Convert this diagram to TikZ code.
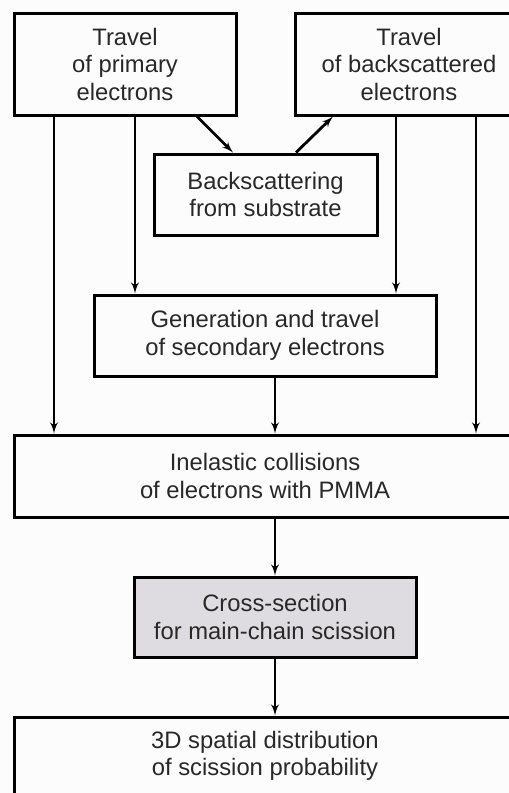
\documentclass[tikz,border=0pt]{standalone}
\usepackage{fontspec}
\setmainfont{Liberation Sans}
\usepackage{tikz}
\usetikzlibrary{arrows}

\definecolor{boxgray}{RGB}{222,220,224}
\definecolor{paper}{RGB}{252,252,252}
\definecolor{ink}{RGB}{40,40,40}

\begin{document}
\begin{tikzpicture}[x=1pt,y=-1pt,>=latex',line width=2.8pt]

		\tikzset{box/.style={draw,line width=3pt,inner sep=0pt,align=center,text=ink,
				font=\fontsize{23.8}{27.5}\selectfont}}

		\clip (0,0) rectangle (509,793);
		\fill[paper] (0,0) rectangle (509,793);

		\node[box,minimum width=222pt,minimum height=102pt] (prim) at (125,64) {Travel\\of primary\\electrons};
		\node[box,minimum width=228pt,minimum height=102pt] (bsc) at (409,64) {Travel\\of backscattered\\electrons};
		\node[box,minimum width=223pt,minimum height=81pt] (subs) at (265.5,194.5) {Backscattering\\from substrate};
		\node[box,minimum width=342pt,minimum height=81pt] (sec) at (265,335.5) {Generation and travel\\of secondary electrons};
		\node[box,minimum width=502pt,minimum height=82pt] (inel) at (265,476) {Inelastic collisions\\of electrons with PMMA};
		\node[box,fill=boxgray,minimum width=282pt,minimum height=80pt] (cross) at (275,617) {Cross-section\\for main-chain scission};
		\node[box,minimum width=502pt,minimum height=78pt] (dist) at (265,756) {3D spatial distribution\\of scission probability};

		\coordinate (c_1) at (54,0);
		\coordinate (c_2) at (135,0);
		\coordinate (c_3) at (275,0);
		\coordinate (c_4) at (396,0);
		\coordinate (c_5) at (476,0);

		\path[->] ([xshift=72pt]prim.south) edge ([xshift=-32.5pt]subs.north)
					([xshift=30.5pt]subs.north) edge ([xshift=-76pt]bsc.south)
					(prim.south -| c_1) edge (inel.north -| c_1)
					(prim.south -| c_2) edge (sec.north -| c_2)
					(bsc.south -| c_4) edge (sec.north -| c_4)
					(bsc.south -| c_5) edge (inel.north -| c_5)
					(sec.south -| c_3) edge (inel.north -| c_3)
					(inel.south -| c_3) edge (cross.north)
					(cross.south) edge (dist.north -| c_3);
\end{tikzpicture}
\end{document}
